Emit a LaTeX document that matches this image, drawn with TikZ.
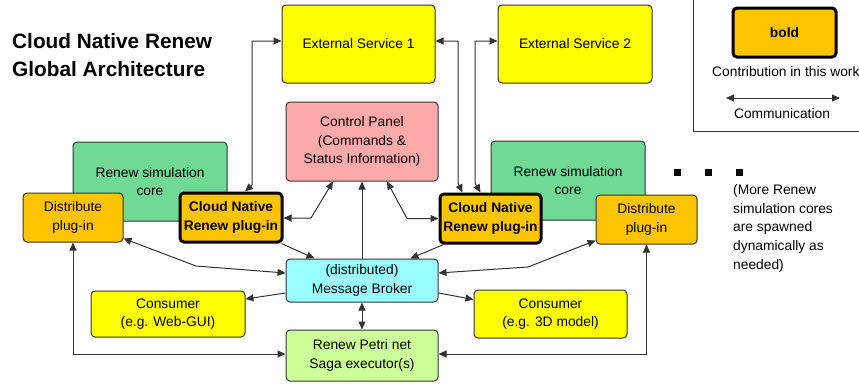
\documentclass[tikz,border=0pt]{standalone}
\usepackage{fontspec}
\setmainfont{Liberation Sans}
\usetikzlibrary{calc,arrows.meta}
\definecolor{lnc}{HTML}{333333}
\definecolor{yel}{HTML}{FFFF00}
\definecolor{pnk}{HTML}{FFAAAA}
\definecolor{grn}{HTML}{6FD995}
\definecolor{org}{HTML}{FFC400}
\definecolor{cyn}{HTML}{99FFFF}
\definecolor{lgr}{HTML}{CCFF99}
\tikzset{
  box/.style={draw=lnc, line width=1pt, rounded corners=4pt, align=center, inner sep=2pt,
    font=\fontsize{13.8}{18.5}\selectfont},
  boldbox/.style={box, line width=3pt, draw=black, fill=org, font=\fontsize{13.8}{18.5}\selectfont\bfseries},
  conn/.style={draw=lnc, line width=1pt},
  both/.style={conn, {Triangle[length=8pt,width=7pt]}-{Triangle[length=8pt,width=7pt]}},
  one/.style={conn, -{Triangle[length=8pt,width=7pt]}},
  dot/.style={fill=black, minimum size=7pt, inner sep=0pt},
  plain/.style={font=\fontsize{13.8}{18.8}\selectfont, inner sep=0pt}
}
\begin{document}
\begin{tikzpicture}[x=1pt,y=-1pt]
\useasboundingbox (0,0) rectangle (859,383);
% title
\node[anchor=north west, align=left, inner sep=0pt, font=\fontsize{20.8}{28}\selectfont\bfseries] (title) at (12,33)
  {Cloud Native Renew\\Global Architecture};
% legend
\draw[lnc, line width=1pt] (693,0) -- (693,131) -- (860,131);
\node[boldbox, minimum width=103pt, minimum height=49pt] (leg) at (784.5,32.5) {bold};
\node[plain, anchor=west] (legt) at (712,72) {Contribution in this work};
\coordinate (la) at (726,98);
\coordinate (lb) at (840,98);
\draw[both] (la) -- (lb);
\node[plain] (legc) at (782,114) {Communication};
% boxes
\node[box, fill=yel, minimum width=153pt, minimum height=78pt] (es1) at (358.5,44) {External Service 1};
\node[box, fill=yel, minimum width=154pt, minimum height=78pt] (es2) at (575,44) {External Service 2};
\node[box, fill=pnk, minimum width=152pt, minimum height=79pt] (cp) at (362,141.5) {Control Panel\\(Commands \&\\Status Information)};
\node[box, fill=grn, minimum width=154pt, minimum height=79pt] (corel) at (150,181.5) {Renew simulation\\core};
\node[box, fill=grn, minimum width=154pt, minimum height=79pt] (corer) at (568,180.5) {Renew simulation\\core};
\node[box, fill=org, minimum width=100pt, minimum height=49pt] (distl) at (73,217.5) {Distribute\\plug-in};
\node[boldbox, minimum width=102pt, minimum height=49pt] (cnl) at (231,217.5) {Cloud Native\\Renew plug-in};
\node[boldbox, minimum width=101pt, minimum height=49pt] (cnr) at (490.5,218.5) {Cloud Native\\Renew plug-in};
\node[box, fill=org, minimum width=101pt, minimum height=49pt] (distr) at (646.5,219.5) {Distribute\\plug-in};
\node[box, fill=cyn, minimum width=152pt, minimum height=43pt] (mb) at (362,280.5) {(distributed)\\Message Broker};
\node[box, fill=yel, minimum width=154pt, minimum height=46pt] (cw) at (168,314) {Consumer\\(e.g. Web-GUI)};
\node[box, fill=yel, minimum width=153pt, minimum height=48pt] (c3d) at (550.5,314) {Consumer\\(e.g. 3D model)};
\node[box, fill=lgr, minimum width=152pt, minimum height=51pt] (saga) at (362,355.5) {Renew Petri net\\Saga executor(s)};
% more cores
\node[dot] (d1) at (677,172) {};
\node[dot] (d2) at (708,172) {};
\node[dot] (d3) at (739,172) {};
\node[plain, anchor=north west, align=left] (more) at (733,184)
  {(More Renew\\simulation cores\\are spawned\\dynamically as\\needed)};
% connectors
\draw[both] ($(es1.west)+(0,-3)$) -- (252,41) -- (252,185) -- ($(cnl.north)+(14,0)$);
\draw[both] ($(es1.east)+(0,-3)$) -- (458,41) -- (458,183) -- ($(cnr.north)+(-28,0)$);
\draw[both] ($(es2.west)+(0,-3)$) -- (475,41) -- (475,183) -- ($(cnr.north)+(-10,0)$);
\draw[both] ($(cnl.east)+(0,0.5)$) -- (311,218) -- ($(cp.south)+(-29,0)$);
\draw[one] (mb.north) -- (cp.south);
\draw[both] ($(cp.south)+(25,0)$) -- (407,218.5) -- (cnr.west);
\draw[one] ($(cnl.south east)+(-2,0)$) -- ($(mb.north west)+(29,0)$);
\draw[one] ($(cnr.south west)+(5,0)$) -- ($(mb.north east)+(-28,0)$);
\draw[both] ($(distl.south east)+(0,-4)$) -- (196,266) -- ($(mb.west)+(0,-7.5)$);
\draw[both] ($(distr.south west)+(0,-4)$) -- (528,267) -- ($(mb.east)+(0,-7.5)$);
\draw[one] ($(mb.west)+(0,12.5)$) -- ($(cw.east)+(0,-15)$);
\draw[one] ($(mb.east)+(0,12.5)$) -- ($(c3d.north west)+(0,10)$);
\draw[both] (mb.south) -- (saga.north);
\draw[both] (distl.south) |- ($(saga.west)+(0,-1.5)$);
\draw[both] (distr.south) |- ($(saga.east)+(0,-1.5)$);
\end{tikzpicture}
\end{document}
